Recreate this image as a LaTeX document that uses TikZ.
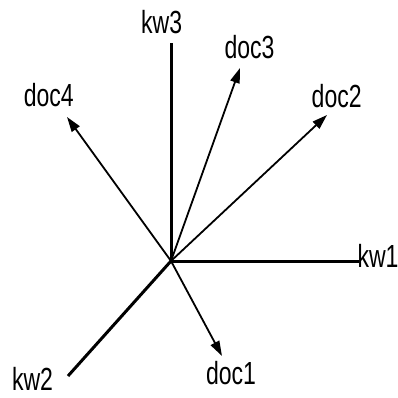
\documentclass[tikz,border=0pt]{standalone}
\usepackage{fontspec}
\setmainfont{Liberation Sans}
\newfontfamily\narrowfont[FakeStretch=0.72]{Liberation Sans}
\usetikzlibrary{arrows.meta}
\begin{document}
\begin{tikzpicture}[x=1pt,y=-1pt,
  axisline/.style={line width=3pt},
  docarrow/.style={line width=1.8pt,-{Triangle[length=15pt,width=9.5pt]}},
  lbl/.style={inner sep=0pt,font=\narrowfont\fontsize{32}{32}\selectfont}]
\useasboundingbox (0,0) rectangle (398,398);
\coordinate (O) at (171,261);
\coordinate (k1) at (359,261);
\coordinate (k2) at (68,376);
\coordinate (k3) at (171,43);
\coordinate (d1) at (222,356);
\coordinate (d2) at (327,115);
\coordinate (d3) at (240,68);
\coordinate (d4) at (67,117);
\draw[axisline] (O) -- (k1);
\draw[axisline] (O) -- (k2);
\draw[axisline] (O) -- (k3);
\draw[docarrow] (O) -- (d1);
\draw[docarrow] (O) -- (d2);
\draw[docarrow] (O) -- (d3);
\draw[docarrow] (O) -- (d4);
\node[lbl] (lk1) at (378,256) {kw1};
\node[lbl] (lk2) at (32.5,379) {kw2};
\node[lbl] (lk3) at (161.7,22.5) {kw3};
\node[lbl] (ld1) at (231,373) {doc1};
\node[lbl] (ld2) at (336.7,95.8) {doc2};
\node[lbl] (ld3) at (249.5,47) {doc3};
\node[lbl] (ld4) at (48.8,94.7) {doc4};
\end{tikzpicture}
\end{document}
